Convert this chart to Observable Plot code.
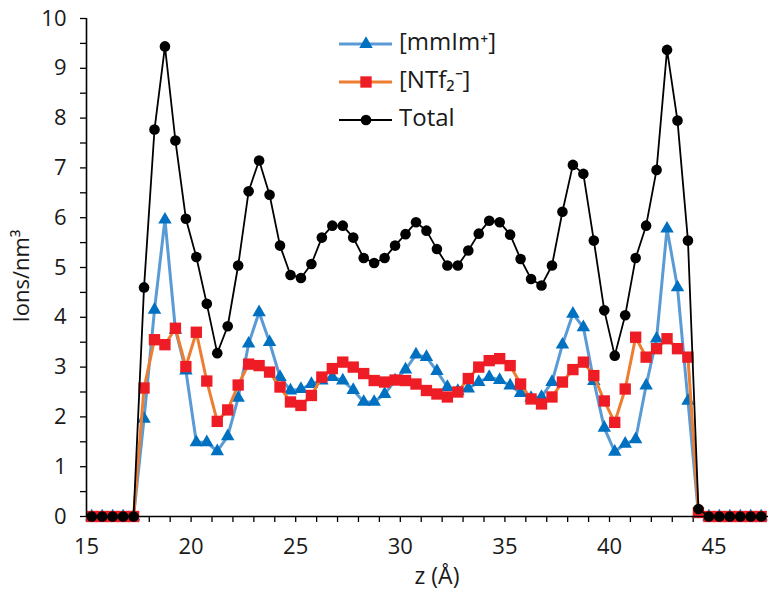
<!DOCTYPE html>
<html>
<head>
<meta charset="utf-8">
<script src="https://cdn.jsdelivr.net/npm/d3@7"></script>
<script src="https://cdn.jsdelivr.net/npm/@observablehq/plot@0.6"></script>
<style>
  html, body { margin: 0; padding: 0; background: #fff; }
  #chart { position: relative; width: 768px; height: 591px; overflow: hidden; }
</style>
</head>
<body>
<div id="chart"></div>
<script>
// z positions (Å)
const z = [15.25, 15.75, 16.25, 16.75, 17.25, 17.75, 18.25, 18.75, 19.25, 19.75,
  20.25, 20.75, 21.25, 21.75, 22.25, 22.75, 23.25, 23.75, 24.25, 24.75,
  25.25, 25.75, 26.25, 26.75, 27.25, 27.75, 28.25, 28.75, 29.25, 29.75,
  30.25, 30.75, 31.25, 31.75, 32.25, 32.75, 33.25, 33.75, 34.25, 34.75,
  35.25, 35.75, 36.25, 36.75, 37.25, 37.75, 38.25, 38.75, 39.25, 39.75,
  40.25, 40.75, 41.25, 41.75, 42.25, 42.75, 43.25, 43.75, 44.25, 44.75,
  45.25, 45.75, 46.25, 46.75, 47.25];

// [mmIm+] ions/nm3
const mmIm = [0, 0, 0, 0, 0, 1.96, 4.15, 5.96, 3.75, 2.93,
  1.49, 1.49, 1.31, 1.61, 2.38, 3.47, 4.10, 3.50, 2.80, 2.53,
  2.56, 2.66, 2.73, 2.80, 2.73, 2.54, 2.30, 2.30, 2.46, 2.73,
  2.95, 3.25, 3.20, 2.92, 2.60, 2.52, 2.57, 2.70, 2.80, 2.74,
  2.63, 2.48, 2.38, 2.40, 2.70, 3.45, 4.07, 3.80, 2.72, 1.78,
  1.30, 1.46, 1.55, 2.63, 3.57, 5.78, 4.60, 2.32, 0.05, 0,
  0, 0, 0, 0, 0];

// [NTf2-] ions/nm3
const NTf2 = [0, 0, 0, 0, 0, 2.58, 3.55, 3.45, 3.78, 3.01,
  3.70, 2.72, 1.91, 2.14, 2.64, 3.06, 3.03, 2.90, 2.60, 2.30,
  2.23, 2.43, 2.80, 2.97, 3.10, 3.00, 2.87, 2.73, 2.70, 2.74,
  2.73, 2.66, 2.53, 2.46, 2.40, 2.50, 2.77, 3.00, 3.13, 3.17,
  3.03, 2.66, 2.36, 2.26, 2.40, 2.70, 2.95, 3.10, 2.83, 2.32,
  1.89, 2.56, 3.60, 3.20, 3.37, 3.57, 3.37, 3.20, 0.08, 0,
  0, 0, 0, 0, 0];

// Total ions/nm3
const total = [0, 0, 0, 0, 0, 4.60, 7.77, 9.44, 7.55, 5.98,
  5.21, 4.27, 3.28, 3.82, 5.04, 6.53, 7.15, 6.46, 5.44, 4.85,
  4.79, 5.07, 5.60, 5.84, 5.84, 5.60, 5.19, 5.09, 5.19, 5.44,
  5.67, 5.91, 5.74, 5.37, 5.04, 5.04, 5.34, 5.68, 5.94, 5.91,
  5.66, 5.17, 4.77, 4.64, 5.04, 6.12, 7.06, 6.88, 5.54, 4.14,
  3.23, 4.04, 5.19, 5.84, 6.96, 9.37, 7.95, 5.54, 0.15, 0,
  0, 0, 0, 0, 0];

const seriesNames = ["[mmIm\u207A]", "[NTf\u2082\u207B]", "Total"];
const xTickLabels = [15, 20, 25, 30, 35, 40, 45];
const yTickLabels = [0, 1, 2, 3, 4, 5, 6, 7, 8, 9, 10];
const xMinorTicks = d3.range(15, 48, 1);
const yMinorTicks = d3.range(0, 10.01, 0.5);

const dataM = z.map((v, i) => ({z: v, y: mmIm[i]}));
const dataN = z.map((v, i) => ({z: v, y: NTf2[i]}));
const dataT = z.map((v, i) => ({z: v, y: total[i]}));

const FONT = "'Open Sans', 'Liberation Sans', sans-serif";
const TXT = "#1a1a1a";
const blueLine = "#5b9bd5", blueMark = "#0070c0";
const orangeLine = "#ed7d31", redMark = "#ee1c24";
const rTri = 5, rSq = 6.4, rCirc = 5.3;

const plot = Plot.plot({
  width: 768,
  height: 591,
  marginLeft: 86,
  marginRight: 0,
  marginTop: 18,
  marginBottom: 75,
  style: {fontFamily: FONT, fontSize: "22px", color: TXT, background: "#fff", overflow: "visible"},
  x: {domain: [15, 47.6], axis: null},
  y: {domain: [0, 10], axis: null},
  marks: [
    Plot.axisY(yMinorTicks, {tickSize: 6, tickPadding: 14, tickFormat: d => yTickLabels.includes(d) ? String(d) : "", label: null, fontSize: 22, strokeWidth: 1.3, stroke: "#000"}),
    Plot.axisX(xMinorTicks, {tickSize: 6, tickPadding: 16, tickFormat: d => xTickLabels.includes(d) ? String(d) : "", label: null, fontSize: 22, strokeWidth: 1.3, stroke: "#000"}),
    Plot.line(dataM, {x: "z", y: "y", stroke: blueLine, strokeWidth: 3}),
    Plot.dot(dataM, {x: "z", y: "y", symbol: "triangle", fill: blueMark, r: rTri}),
    Plot.line(dataN, {x: "z", y: "y", stroke: orangeLine, strokeWidth: 3}),
    Plot.dot(dataN, {x: "z", y: "y", symbol: "square", fill: redMark, r: rSq}),
    Plot.line(dataT, {x: "z", y: "y", stroke: "#000", strokeWidth: 1.8}),
    Plot.dot(dataT, {x: "z", y: "y", symbol: "circle", fill: "#000", r: rCirc}),
    Plot.ruleX([15], {stroke: "#000", strokeWidth: 1.6}),
    Plot.ruleY([0], {stroke: "#000", strokeWidth: 1.6})
  ]
});

document.getElementById("chart").appendChild(plot);

const svg = d3.select(plot);
// axis titles
svg.append("text")
  .attr("x", 437).attr("y", 578)
  .attr("text-anchor", "middle").attr("dominant-baseline", "middle")
  .style("font-family", FONT).style("font-size", "23px").attr("fill", TXT)
  .text("z (\u00C5)");
svg.append("text")
  .attr("transform", "translate(23,276) rotate(-90)")
  .attr("text-anchor", "middle").attr("dominant-baseline", "middle")
  .style("font-family", FONT).style("font-size", "22px").attr("fill", TXT)
  .text("Ions/nm\u00B3");

// legend
const legend = svg.append("g");
const items = [
  {name: seriesNames[0], line: blueLine, lw: 3, fill: blueMark, sym: d3.symbolTriangle, size: Math.PI * rTri * rTri, y: 44},
  {name: seriesNames[1], line: orangeLine, lw: 3, fill: redMark, sym: d3.symbolSquare, size: Math.PI * rSq * rSq, y: 82},
  {name: seriesNames[2], line: "#000", lw: 1.8, fill: "#000", sym: d3.symbolCircle, size: Math.PI * rCirc * rCirc, y: 120}
];
items.forEach(it => {
  legend.append("line").attr("x1", 339).attr("x2", 392).attr("y1", it.y).attr("y2", it.y)
    .attr("stroke", it.line).attr("stroke-width", it.lw);
  legend.append("path").attr("d", d3.symbol(it.sym, it.size)())
    .attr("transform", `translate(366,${it.y})`).attr("fill", it.fill);
  legend.append("text").attr("x", 399).attr("y", it.y)
    .attr("text-anchor", "start").attr("dominant-baseline", "middle")
    .style("font-family", FONT).style("font-size", "24px").attr("fill", TXT)
    .text(it.name);
});
</script>
</body>
</html>
